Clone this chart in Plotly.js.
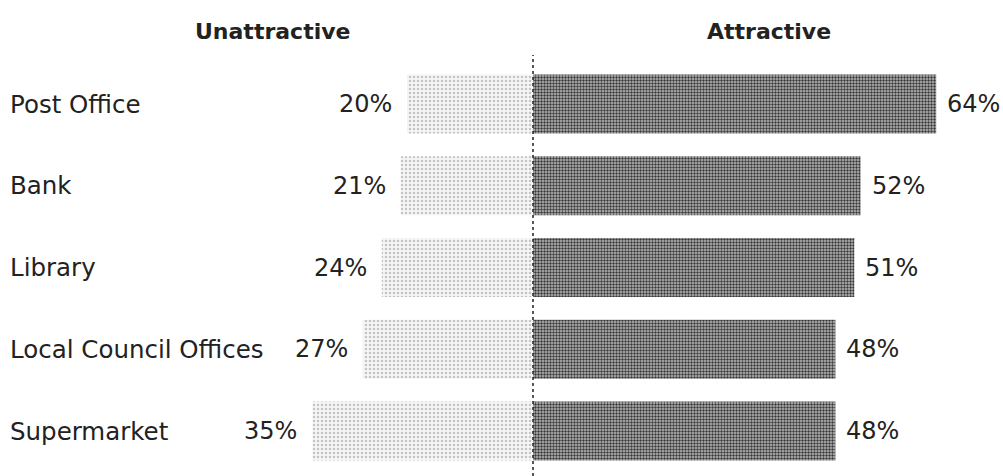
<!DOCTYPE html>
<html>
<head>
<meta charset="utf-8">
<script src="https://cdn.plot.ly/plotly-3.0.1.min.js"></script>
<style>html,body{margin:0;padding:0;background:#fff;}#chart{width:1003px;height:476px;}</style>
</head>
<body>
<div id="chart"></div>
<script>
const categories = ["Post Office", "Bank", "Library", "Local Council Offices", "Supermarket"];
const unattractive = [20, 21, 24, 27, 35];
const attractive = [64, 52, 51, 48, 48];
const headers = ["Unattractive", "Attractive"];

const font = "DejaVu Sans, Verdana, sans-serif";

const traces = [
  {
    type: "bar", orientation: "h", y: categories, x: unattractive.map(v => -v),
    width: 0.72,
    marker: {color: "#ebebeb", line: {width: 0},
      pattern: {shape: ".", size: 4, solidity: 0.3, fgcolor: "#c4c4c4", bgcolor: "#f6f6f6"}},
    hoverinfo: "skip"
  },
  {
    type: "bar", orientation: "h", y: categories, x: attractive,
    width: 0.72,
    marker: {color: "#8c8c8c", line: {width: 0},
      pattern: {shape: ".", size: 3, solidity: 0.5, fgcolor: "#3a3a3a", bgcolor: "#bdbdbd"}},
    hoverinfo: "skip"
  }
];

const annotations = [];
categories.forEach((c, i) => {
  annotations.push({x: -84.6, y: c, xref: "x", yref: "y", text: c, showarrow: false,
    xanchor: "left", xshift: 8, font: {family: font, size: 24.5, color: "#222"}});
  annotations.push({x: -unattractive[i], y: c, xref: "x", yref: "y", text: unattractive[i] + "%",
    showarrow: false, xanchor: "right", xshift: -13, font: {family: font, size: 24, color: "#222"}});
  annotations.push({x: attractive[i], y: c, xref: "x", yref: "y", text: attractive[i] + "%",
    showarrow: false, xanchor: "left", xshift: 9, font: {family: font, size: 24, color: "#222"}});
});
annotations.push({x: -41.3, y: 1, xref: "x", yref: "paper", yanchor: "bottom", yshift: 9, text: "<b>" + headers[0] + "</b>",
  showarrow: false, font: {family: font, size: 22, color: "#222"}});
annotations.push({x: 37.5, y: 1, xref: "x", yref: "paper", yanchor: "bottom", yshift: 9, text: "<b>" + headers[1] + "</b>",
  showarrow: false, font: {family: font, size: 22, color: "#222"}});

const layout = {
  width: 1003, height: 476,
  margin: {l: 0, r: 0, t: 55, b: 0},
  paper_bgcolor: "#fff", plot_bgcolor: "#fff",
  showlegend: false,
  barmode: "overlay",
  xaxis: {range: [-84.6, 74.6], visible: false, fixedrange: true},
  yaxis: {type: "category", range: [4.55, -0.6], visible: false, fixedrange: true},
  shapes: [{type: "line", xref: "x", yref: "paper", x0: 0, x1: 0, y0: 0, y1: 1,
    line: {color: "#222", width: 1.5, dash: "dot"}}],
  annotations: annotations
};

Plotly.newPlot("chart", traces, layout, {displayModeBar: false, staticPlot: true});
</script>
</body>
</html>
